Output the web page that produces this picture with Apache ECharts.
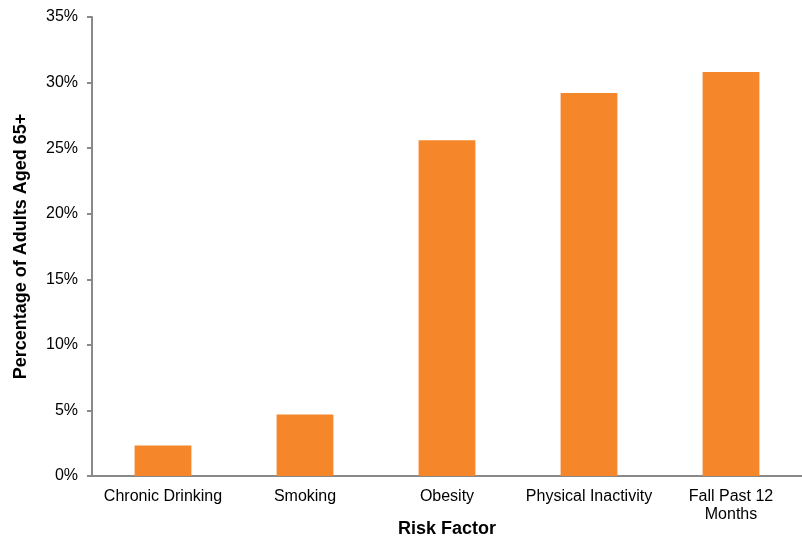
<!DOCTYPE html>
<html>
<head>
<meta charset="utf-8">
<script src="https://cdn.jsdelivr.net/npm/echarts@6/dist/echarts.min.js"></script>
<style>
html,body{margin:0;padding:0;background:#fff;}
#chart{width:802px;height:537px;}
</style>
</head>
<body>
<div id="chart"></div>
<script>
const categories = ["Chronic Drinking", "Smoking", "Obesity", "Physical Inactivity", "Fall Past 12\nMonths"];
const values = [2.33, 4.69, 25.6, 29.2, 30.8];
const yTicks = [0, 5, 10, 15, 20, 25, 30, 35];

const chart = echarts.init(document.getElementById('chart'), null, {renderer: 'canvas'});
const font = '"Liberation Sans", Arial, sans-serif';
chart.setOption({
  animation: false,
  backgroundColor: '#ffffff',
  grid: {left: 92, right: 0, top: 17, bottom: 61, containLabel: false, outerBoundsMode: 'none'},
  xAxis: {
    type: 'category',
    data: categories,
    name: 'Risk Factor',
    nameLocation: 'middle',
    nameGap: 44,
    nameMoveOverlap: false,
    nameTextStyle: {fontFamily: font, fontSize: 18, fontWeight: 'bold', color: '#000'},
    axisLine: {show: true, lineStyle: {color: '#898989', width: 2}},
    axisTick: {show: false},
    axisLabel: {fontFamily: font, fontSize: 16, color: '#000', margin: 12, lineHeight: 18, interval: 0}
  },
  yAxis: {
    type: 'value',
    min: yTicks[0],
    max: yTicks[yTicks.length - 1],
    interval: 5,
    name: 'Percentage of Adults Aged 65+',
    nameLocation: 'middle',
    nameGap: 62,
    nameMoveOverlap: false,
    nameTextStyle: {fontFamily: font, fontSize: 18, fontWeight: 'bold', color: '#000'},
    axisLine: {show: true, lineStyle: {color: '#898989', width: 2}},
    axisTick: {show: true, length: 5, lineStyle: {color: '#898989', width: 2}},
    splitLine: {show: false},
    axisLabel: {fontFamily: font, fontSize: 16, color: '#000', margin: 14, formatter: v => v + '%'}
  },
  series: [{
    type: 'bar',
    data: values,
    barCategoryGap: '60%',
    itemStyle: {color: '#F5872A'}
  }]
});
</script>
</body>
</html>
